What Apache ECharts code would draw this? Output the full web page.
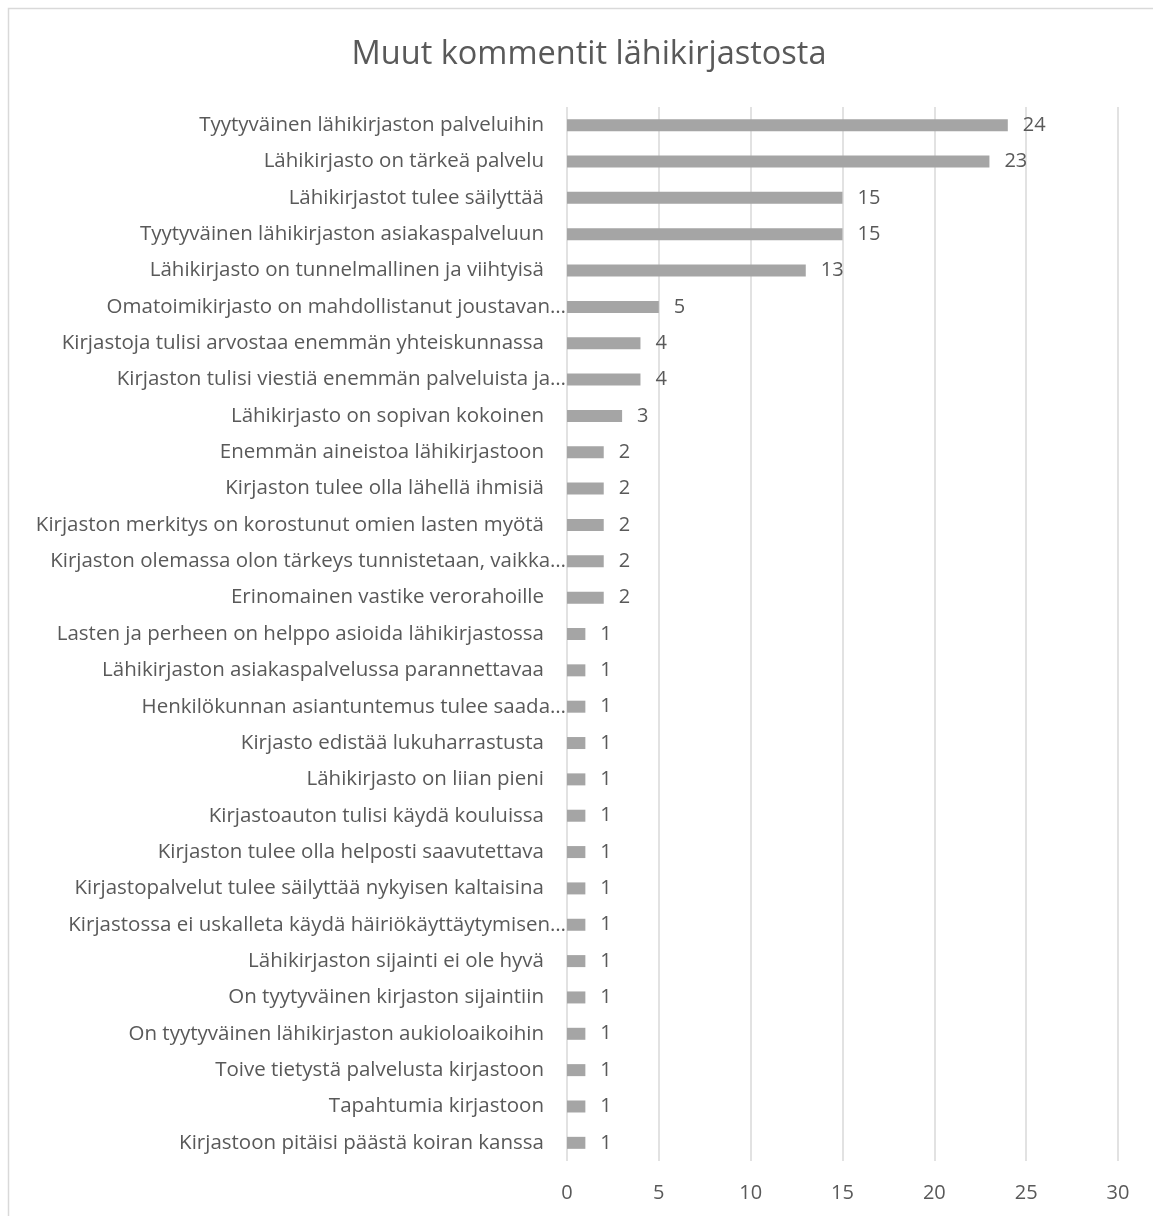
<!DOCTYPE html>
<html>
<head>
<meta charset="utf-8">
<script src="https://cdn.jsdelivr.net/npm/echarts@6/dist/echarts.min.js"></script>
<style>
    html, body { margin: 0; padding: 0; background: #fff; }
    #chart { width: 1153px; height: 1216px; }
</style>
</head>
<body>
<div id="chart"></div>
<script>
// kategoriat ylhäältä alas
const categories = [
    'Tyytyväinen lähikirjaston palveluihin',
    'Lähikirjasto on tärkeä palvelu',
    'Lähikirjastot tulee säilyttää',
    'Tyytyväinen lähikirjaston asiakaspalveluun',
    'Lähikirjasto on tunnelmallinen ja viihtyisä',
    'Omatoimikirjasto on mahdollistanut joustavan…',
    'Kirjastoja tulisi arvostaa enemmän yhteiskunnassa',
    'Kirjaston tulisi viestiä enemmän palveluista ja…',
    'Lähikirjasto on sopivan kokoinen',
    'Enemmän aineistoa lähikirjastoon',
    'Kirjaston tulee olla lähellä ihmisiä',
    'Kirjaston merkitys on korostunut omien lasten myötä',
    'Kirjaston olemassa olon tärkeys tunnistetaan, vaikka…',
    'Erinomainen vastike verorahoille',
    'Lasten ja perheen on helppo asioida lähikirjastossa',
    'Lähikirjaston asiakaspalvelussa parannettavaa',
    'Henkilökunnan asiantuntemus tulee saada…',
    'Kirjasto edistää lukuharrastusta',
    'Lähikirjasto on liian pieni',
    'Kirjastoauton tulisi käydä kouluissa',
    'Kirjaston tulee olla helposti saavutettava',
    'Kirjastopalvelut tulee säilyttää nykyisen kaltaisina',
    'Kirjastossa ei uskalleta käydä häiriökäyttäytymisen…',
    'Lähikirjaston sijainti ei ole hyvä',
    'On tyytyväinen kirjaston sijaintiin',
    'On tyytyväinen lähikirjaston aukioloaikoihin',
    'Toive tietystä palvelusta kirjastoon',
    'Tapahtumia kirjastoon',
    'Kirjastoon pitäisi päästä koiran kanssa'
];
const counts = [24, 23, 15, 15, 13, 5, 4, 4, 3, 2, 2, 2, 2, 2, 1, 1, 1, 1, 1, 1, 1, 1, 1, 1, 1, 1, 1, 1, 1];
const xTicks = { min: 0, max: 30, interval: 5 };

const titleText = 'Muut kommentit lähikirjastosta';
const fontFam = '"Open Sans", "Noto Sans", sans-serif';
const textColor = '#595959';
const gridColor = '#d9d9d9';

const myChart = echarts.init(document.getElementById('chart'));
const option = {
    animation: false,
    backgroundColor: '#fff',
    title: {
        text: titleText,
        left: 584,
        top: 33,
        textAlign: 'center',
        textStyle: {
            color: textColor,
            fontFamily: fontFam,
            fontSize: 32.5,
            fontWeight: 'normal'
        }
    },
    graphic: [{
        type: 'rect',
        silent: true,
        shape: { x: 8.5, y: 8.5, width: 1300, height: 1400 },
        style: { fill: 'none', stroke: gridColor, lineWidth: 1.5 }
    }],
    grid: {
        left: 567,
        right: 35,
        top: 107,
        bottom: 55,
        containLabel: false
    },
    xAxis: {
        type: 'value',
        min: xTicks.min,
        max: xTicks.max,
        interval: xTicks.interval,
        axisLine: { show: false },
        axisTick: { show: false },
        axisLabel: {
            color: textColor,
            fontFamily: fontFam,
            fontSize: 20,
            margin: 22
        },
        splitLine: {
            show: true,
            lineStyle: { color: gridColor, width: 1.5 }
        }
    },
    yAxis: {
        type: 'category',
        inverse: true,
        data: categories,
        axisLine: { show: false },
        axisTick: { show: false },
        axisLabel: {
            color: textColor,
            fontFamily: fontFam,
            fontSize: 20.5,
            margin: 23,
            // katkaistut nimet menevät akseliin asti
            formatter: (v) => v.endsWith('…') ? '{t|' + v + '}' : v,
            rich: {
                t: {
                    color: textColor,
                    fontFamily: fontFam,
                    fontSize: 20.5,
                    padding: [0, -22, 0, 0]
                }
            }
        }
    },
    series: [{
        type: 'bar',
        data: counts,
        barWidth: 12,
        itemStyle: { color: '#a5a5a5' },
        label: {
            show: true,
            position: 'right',
            distance: 15,
            color: textColor,
            fontFamily: fontFam,
            fontSize: 20
        }
    }]
};
myChart.setOption(option);
window.addEventListener('resize', () => {
    myChart.resize();
});
</script>
</body>
</html>
